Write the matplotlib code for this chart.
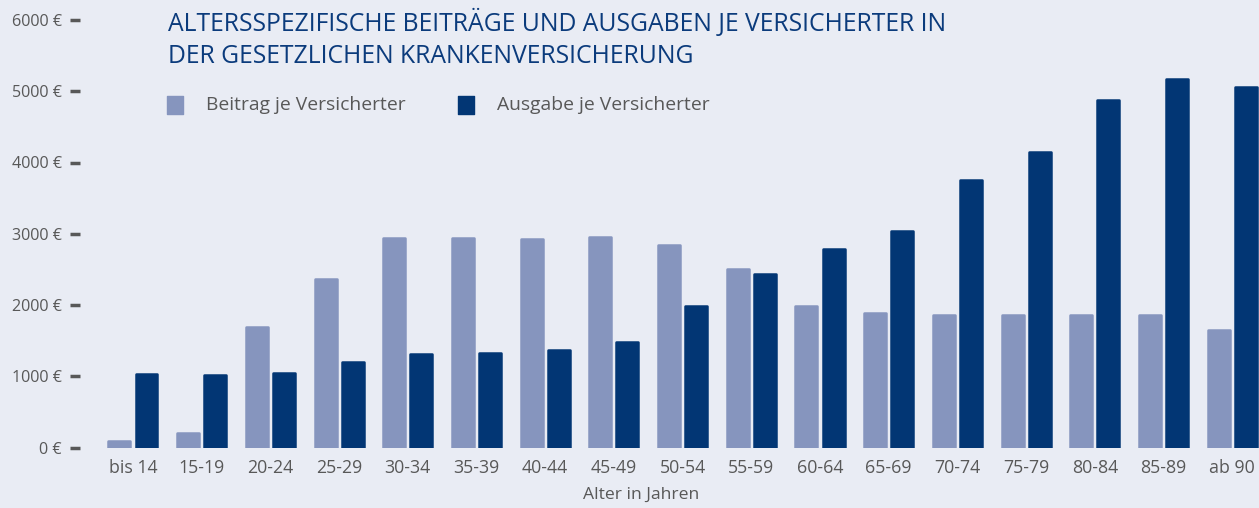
import matplotlib
matplotlib.use("Agg")
import matplotlib.pyplot as plt
import numpy as np
from matplotlib.patches import Rectangle

categories = ["bis 14", "15-19", "20-24", "25-29", "30-34", "35-39", "40-44", "45-49",
              "50-54", "55-59", "60-64", "65-69", "70-74", "75-79", "80-84", "85-89", "ab 90"]
beitrag = [95, 208, 1695, 2361, 2936, 2945, 2930, 2959, 2842, 2509, 1990, 1884, 1860, 1860, 1860, 1860, 1649]
ausgabe = [1036, 1013, 1041, 1196, 1317, 1326, 1364, 1485, 1986, 2442, 2782, 3043, 3759, 4147, 4877, 5168, 5060]
yticks = [0, 1000, 2000, 3000, 4000, 5000, 6000]
ytick_labels = ["0 €", "1000 €", "2000 €", "3000 €", "4000 €", "5000 €", "6000 €"]

title = "ALTERSSPEZIFISCHE BEITRÄGE UND AUSGABEN JE VERSICHERTER IN\nDER GESETZLICHEN KRANKENVERSICHERUNG"
xlabel = "Alter in Jahren"
legend_labels = ["Beitrag je Versicherter", "Ausgabe je Versicherter"]

BG = "#E9ECF4"
LIGHT = "#8695BE"
DARK = "#023674"
TITLE_C = "#0B3B7C"
GREY = "#585858"

plt.rcParams['font.family'] = ['Open Sans', 'DejaVu Sans']

W, H = 1259, 508
fig = plt.figure(figsize=(W / 100, H / 100), dpi=100, facecolor=BG)
ax_left, ax_right = 80, 1259
ax_top, ax_bottom = 20, 447.5
ax = fig.add_axes([ax_left / W, (H - ax_bottom) / H, (ax_right - ax_left) / W, (ax_bottom - ax_top) / H])
ax.set_facecolor(BG)

x = np.arange(len(categories))
w = 0.32
off = 0.197
ax.bar(x - off, beitrag, width=w, color=LIGHT, edgecolor=LIGHT, linewidth=1.8, joinstyle='round')
ax.bar(x + off, ausgabe, width=w, color=DARK, edgecolor=DARK, linewidth=1.8, joinstyle='round')

ax.set_xlim(-0.771, 16.39)
ax.set_ylim(0, 6000)
for s in ax.spines.values():
    s.set_visible(False)

ax.set_yticks(yticks)
ax.set_yticklabels(ytick_labels)
ax.tick_params(axis='y', length=7, width=2.5, color=GREY, labelcolor=GREY, labelsize=11.6, pad=6, direction='out')
ax.set_xticks(x)
ax.set_xticklabels(categories)
ax.tick_params(axis='x', length=0, labelcolor=GREY, labelsize=12.8, pad=8)

fig.text(641 / W, 1 - 495 / H, xlabel, ha='center', va='center', color=GREY, fontsize=12.6)

fig.text(168 / W, 1 - 39 / H, title, ha='left', va='center', color=TITLE_C, fontsize=17.8, linespacing=1.38)

# legend
for (lx, tx, col, lab) in [(167, 206, LIGHT, legend_labels[0]), (458, 497, DARK, legend_labels[1])]:
    fig.patches.append(Rectangle((lx / W, 1 - 114 / H), 16 / W, 18 / H, transform=fig.transFigure,
                                 facecolor=col, edgecolor=col, linewidth=1, joinstyle='round'))
    fig.text(tx / W, 1 - 105 / H, lab, ha='left', va='center', color=GREY, fontsize=13.9)

fig.savefig("out.png", dpi=100, facecolor=BG)
